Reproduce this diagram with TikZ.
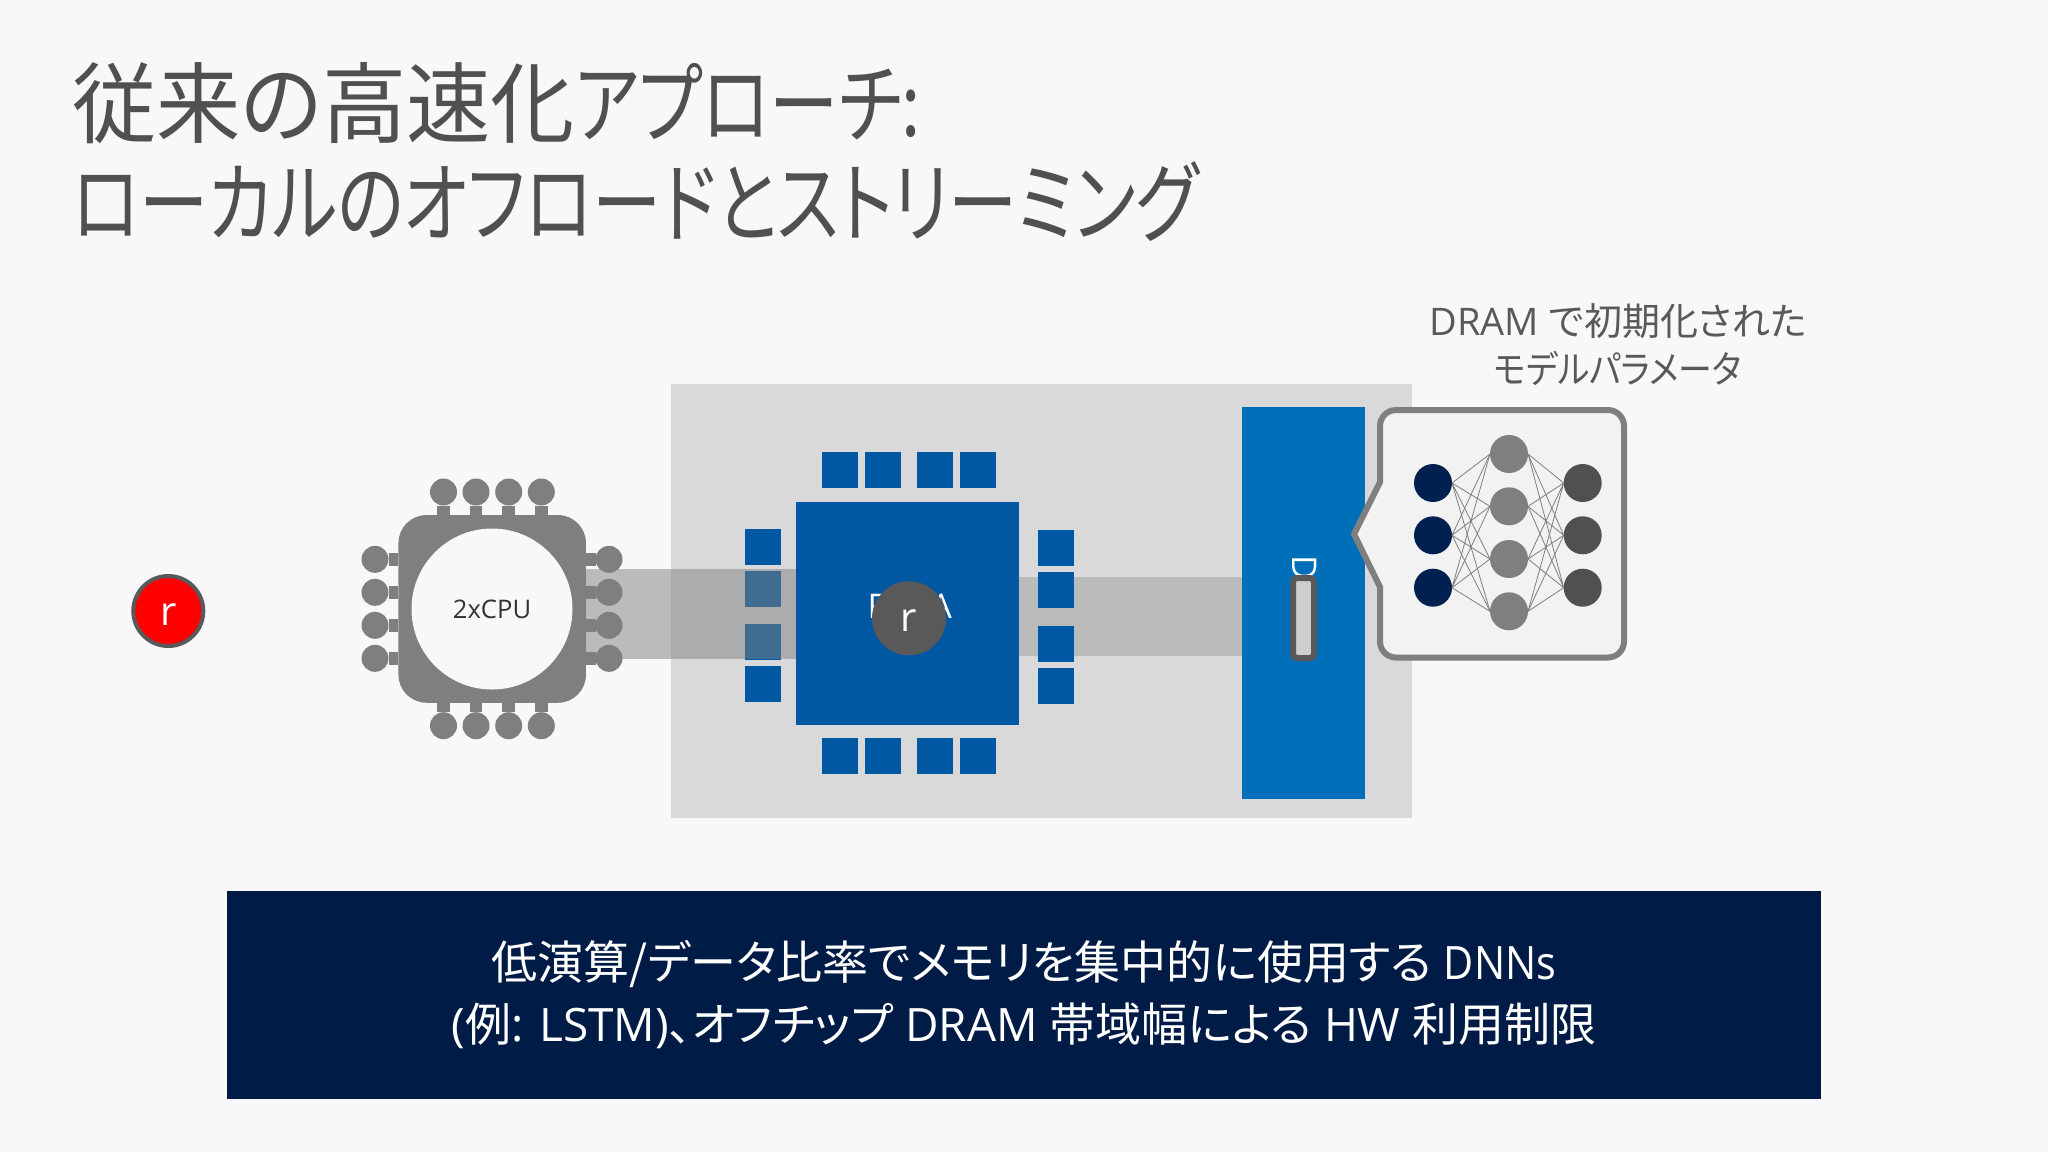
\documentclass[tikz,border=0pt]{standalone}
\usepackage{fontspec}
\setmainfont{Open Sans}
\newfontfamily\jp[RawFeature=+palt]{Noto Sans CJK JP}
\newcommand{\kanjifit}[1]{\scalebox{0.957}[1]{#1}}
\newcommand{\kanafit}[1]{\scalebox{0.787}[1]{#1}}
\definecolor{pagebg}{HTML}{F8F8FA}
\definecolor{boardgray}{HTML}{D9D9DB}
\definecolor{fpgablue}{HTML}{0058A3}
\definecolor{dimmblue}{HTML}{006FBA}
\definecolor{navy}{HTML}{002050}
\definecolor{bannernavy}{HTML}{001C46}
\definecolor{chipgray}{HTML}{7F7F80}
\definecolor{darkgray}{HTML}{595959}
\tikzset{
	pad/.style={fill=fpgablue,inner sep=0,outer sep=0,minimum size=18pt},
	pinhead/.style={circle,fill=chipgray,inner sep=0,outer sep=0,minimum size=13.5pt},
	pinstem/.style={draw=chipgray,line width=6.25pt},
	nnin/.style={circle,fill=navy,inner sep=0,outer sep=0,minimum size=19pt},
	nnhid/.style={circle,fill=chipgray,inner sep=0,outer sep=0,minimum size=19pt},
	nnout/.style={circle,fill=darkgray!90!black,inner sep=0,outer sep=0,minimum size=19pt},
	nnedge/.style={draw=chipgray,line width=0.4pt},
	marker/.style={circle,text=white,inner sep=0,outer sep=0,font=\fontsize{20}{24}\selectfont}
}
\begin{document}
\begin{tikzpicture}[x=0.5pt,y=-0.5pt]
	\useasboundingbox (0,0) rectangle (2048,1152);
	\fill[pagebg] (0,0) rectangle (2048,1152);
	\node[anchor=north west,align=left,inner sep=0,text=darkgray!90!black,font=\jp\fontsize{44}{49.5}\selectfont] (title) at (72,62) {\kanjifit{従来の高速化}\kanafit{アプローチ:}\\\kanafit{ローカルのオフロードとストリーミング}};
	\node[fill=boardgray,inner sep=0,outer sep=0,minimum width=370.5pt,minimum height=217pt] (board) at (1041.5,601) {};
	\node[pad] (l1) at (763,547) {};
	\node[pad] (l2) at (763,588.7) {};
	\node[pad] (l3) at (763,642) {};
	\node[pad] (l4) at (763,684) {};
	\fill[gray,opacity=0.5] (585,568.7) rectangle (796,659);
	\fill[gray,opacity=0.33] (1019,576.7) rectangle (1242,656);
	\node[pad] (r1) at (1055.7,548.3) {};
	\node[pad] (r2) at (1055.7,590.3) {};
	\node[pad] (r3) at (1055.7,643.7) {};
	\node[pad] (r4) at (1055.7,685.7) {};
	\node[pad] (t1) at (840,470) {};
	\node[pad] (t2) at (883,470) {};
	\node[pad] (t3) at (935.3,470) {};
	\node[pad] (t4) at (977.7,470) {};
	\node[pad] (b1) at (840,756.3) {};
	\node[pad] (b2) at (883,756.3) {};
	\node[pad] (b3) at (935.3,756.3) {};
	\node[pad] (b4) at (977.7,756.3) {};
	\node[fill=fpgablue,inner sep=0,outer sep=0,minimum size=111.7pt,text=white,font=\fontsize{17}{20}\selectfont] (fpga) at (907.7,613.7) {\hspace{2pt}\raisebox{-2.15pt}[0pt][0pt]{FPGA}};
	\node[marker,fill=darkgray,minimum size=37pt] (fpgar) at (909,618.3) {\raisebox{-6.7pt}[0pt][0pt]{r}};
	\node[fill=dimmblue,inner sep=0,outer sep=0,minimum width=61.2pt,minimum height=196pt] (dimm) at (1303.5,603) {};
	\node[rotate=-90,anchor=west,inner sep=0,text=white,font=\fontsize{17}{20}\selectfont] (dram) at (1305,555) {DRAM};
	\node[draw=darkgray,line width=3pt,fill=boardgray!95!black,rounded corners=2pt,inner sep=0,minimum width=10.5pt,minimum height=40pt] (dimmchip) at (1303.5,618) {};
	\node[pinhead] (pt1) at (443.5,492) {};
	\node[pinhead] (pt2) at (476,492) {};
	\node[pinhead] (pt3) at (508.7,492) {};
	\node[pinhead] (pt4) at (541.3,492) {};
	\node[pinhead] (pb1) at (443.5,725.7) {};
	\node[pinhead] (pb2) at (476,725.7) {};
	\node[pinhead] (pb3) at (508.7,725.7) {};
	\node[pinhead] (pb4) at (541.3,725.7) {};
	\node[pinhead] (pl1) at (375,559.3) {};
	\node[pinhead] (pl2) at (375,592.3) {};
	\node[pinhead] (pl3) at (375,625.3) {};
	\node[pinhead] (pl4) at (375,658.3) {};
	\node[pinhead] (pr1) at (609,559.3) {};
	\node[pinhead] (pr2) at (609,592.3) {};
	\node[pinhead] (pr3) at (609,625.3) {};
	\node[pinhead] (pr4) at (609,658.3) {};
	\node[fill=chipgray,rounded corners=14pt,inner sep=0,outer sep=0,minimum width=93.75pt,minimum height=93.85pt] (cpu) at (492.2,608.9) {};
	\draw[pinstem] (pt1) -- (pt1 |- cpu.north);
	\draw[pinstem] (pt2) -- (pt2 |- cpu.north);
	\draw[pinstem] (pt3) -- (pt3 |- cpu.north);
	\draw[pinstem] (pt4) -- (pt4 |- cpu.north);
	\draw[pinstem] (pb1) -- (pb1 |- cpu.south);
	\draw[pinstem] (pb2) -- (pb2 |- cpu.south);
	\draw[pinstem] (pb3) -- (pb3 |- cpu.south);
	\draw[pinstem] (pb4) -- (pb4 |- cpu.south);
	\draw[pinstem] (pl1) -- (pl1 -| cpu.west);
	\draw[pinstem] (pl2) -- (pl2 -| cpu.west);
	\draw[pinstem] (pl3) -- (pl3 -| cpu.west);
	\draw[pinstem] (pl4) -- (pl4 -| cpu.west);
	\draw[pinstem] (pr1) -- (pr1 -| cpu.east);
	\draw[pinstem] (pr2) -- (pr2 -| cpu.east);
	\draw[pinstem] (pr3) -- (pr3 -| cpu.east);
	\draw[pinstem] (pr4) -- (pr4 -| cpu.east);
	\node[circle,fill=pagebg,inner sep=0,outer sep=0,minimum size=80.5pt,text=black!80,font=\fontsize{12.8}{16}\selectfont] (cpucore) at (492,609) {2xCPU};
	\node[marker,fill=red,draw=darkgray,line width=2pt,minimum size=35pt] (hostr) at (168.3,611) {\raisebox{-7pt}[0pt][0pt]{r}};
	\draw[draw=chipgray,fill=black!5,line width=3pt] (1354,534) -- (1380,482) {[rounded corners=8pt] -- (1380,410) -- (1624,410) -- (1624,657.5) -- (1380,657.5)} -- (1380,587) -- cycle;
	\node[nnin] (ni1) at (1433,483) {};
	\node[nnin] (ni2) at (1433,535.3) {};
	\node[nnin] (ni3) at (1433,587.7) {};
	\node[nnhid] (nh1) at (1509,454) {};
	\node[nnhid] (nh2) at (1509,506.3) {};
	\node[nnhid] (nh3) at (1509,559) {};
	\node[nnhid] (nh4) at (1509,611.3) {};
	\node[nnout] (no1) at (1582.7,483) {};
	\node[nnout] (no2) at (1582.7,535.3) {};
	\node[nnout] (no3) at (1582.7,587.7) {};
	\draw[nnedge] (ni1.east) -- (nh1.west) (ni1.east) -- (nh2.west) (ni1.east) -- (nh3.west) (ni1.east) -- (nh4.west);
	\draw[nnedge] (ni2.east) -- (nh1.west) (ni2.east) -- (nh2.west) (ni2.east) -- (nh3.west) (ni2.east) -- (nh4.west);
	\draw[nnedge] (ni3.east) -- (nh1.west) (ni3.east) -- (nh2.west) (ni3.east) -- (nh3.west) (ni3.east) -- (nh4.west);
	\draw[nnedge] (no1.west) -- (nh1.east) (no1.west) -- (nh2.east) (no1.west) -- (nh3.east) (no1.west) -- (nh4.east);
	\draw[nnedge] (no2.west) -- (nh1.east) (no2.west) -- (nh2.east) (no2.west) -- (nh3.east) (no2.west) -- (nh4.east);
	\draw[nnedge] (no3.west) -- (nh1.east) (no3.west) -- (nh2.east) (no3.west) -- (nh3.east) (no3.west) -- (nh4.east);
	\node[align=center,inner sep=0,text=darkgray,font=\fontsize{19}{24}\selectfont] (paramnote) at (1618,345) {DRAM {\jp で初期化された}\\\scalebox{0.89}[1]{\jp モデルパラメータ}};
	\node[fill=bannernavy,inner sep=0,outer sep=0,minimum width=797pt,minimum height=104pt,align=center,text=white,font=\fontsize{23}{31}\selectfont] (summary) at (1024,994.6) {{\jp 低演算/データ比率でメモリを集中的に使用する} \scalebox{0.9}[1]{DNNs}\\({\jp 例}: LSTM){\jp 、オフチップ} DRAM {\jp 帯域幅による} HW {\jp 利用制限}};
\end{tikzpicture}
\end{document}
